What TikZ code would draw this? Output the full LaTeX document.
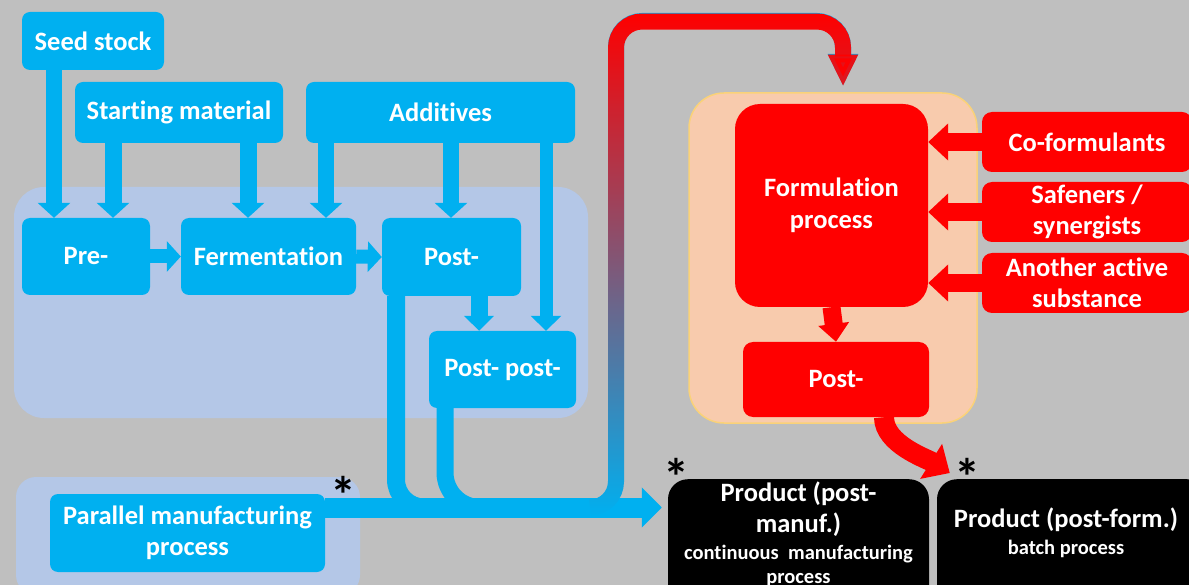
\documentclass[tikz,border=0pt]{standalone}
\usepackage{fontspec}
\setmainfont[Ligatures=NoCommon]{Carlito}
\usetikzlibrary{arrows.meta,fadings,calc}

\definecolor{bgray}{RGB}{191,191,191}
\definecolor{sky}{RGB}{0,176,240}
\definecolor{lavblue}{RGB}{180,199,231}
\definecolor{peach}{RGB}{248,203,173}
\definecolor{peachline}{RGB}{250,210,120}
\definecolor{pred}{RGB}{255,0,0}

% red takes over towards the top of the return arrow
\tikzfading[name=redtop, top color=transparent!0, bottom color=transparent!100]

\begin{document}
\begin{tikzpicture}[x=1pt,y=-1pt,
  lbl/.style={font=\bfseries\fontsize{26.5}{31.5}\selectfont, text=white, align=center, inner sep=0pt},
  small/.style={font=\bfseries\fontsize{20.5}{24.5}\selectfont, text=white, align=center, inner sep=0pt},
  bluebox/.style={lbl, fill=sky, rounded corners=8pt},
  redbox/.style={lbl, fill=pred, rounded corners=10pt},
  prodbox/.style={fill=black, rounded corners=20pt, inner sep=0pt},
  groupbox/.style={fill=lavblue, rounded corners=30pt, inner sep=0pt},
  star/.style={font=\bfseries\fontsize{52}{52}\selectfont, text=black, inner sep=0pt, anchor=base},
  bdown/.style={draw=sky, line width=#1, line cap=butt, -{Triangle[length=15pt,width=32pt]}},
  bright/.style={draw=sky, line width=14pt, line cap=butt, -{Triangle[length=14pt,width=30pt]}},
  bline/.style={draw=sky, line width=#1, line cap=butt},
  rleft/.style={draw=pred, line width=18pt, line cap=butt, -{Triangle[length=20pt,width=36pt]}},
]
\path[use as bounding box, fill=bgray] (0,0) rectangle (1189,585);
\clip (0,0) rectangle (1189,585);

% grouping panels
\node[groupbox, minimum width=574pt, minimum height=231pt] (g1) at (301,302.5) {};
\node[groupbox, rounded corners=20pt, minimum width=344pt, minimum height=118pt] (g2) at (188,536) {};
\node[fill=peach, draw=peachline, line width=1.5pt, rounded corners=35pt,
      minimum width=288pt, minimum height=330pt, inner sep=0pt] (fgroup) at (833,258) {};

% manufacturing steps
\node[bluebox, minimum width=142pt, minimum height=58pt] (seed) at (93,41) {Seed stock};
\node[bluebox, minimum width=208pt, minimum height=61pt] (start) at (179,112.5) {Starting material};
\node[bluebox, minimum width=269pt, minimum height=61pt] (add) at (440.5,112.5) {Additives};
\node[bluebox, minimum width=128pt, minimum height=77pt] (pre) at (86,256.5) {Pre-};
\node[bluebox, minimum width=175pt, minimum height=77pt] (ferm) at (268.5,256.5) {Fermentation};
\node[bluebox, minimum width=139pt, minimum height=78pt] (post) at (451.5,257) {Post-};
\node[bluebox, minimum width=147pt, minimum height=77pt] (pp) at (502.5,369.5) {Post- post-};
\node[bluebox, minimum width=275pt, minimum height=78pt] (par) at (187.5,533) {Parallel manufacturing\\process};

% formulation steps
\node[redbox, rounded corners=25pt, minimum width=193pt, minimum height=203pt] (form) at (831.5,205.5) {Formulation\\process};
\node[redbox, minimum width=186pt, minimum height=75pt] (fpost) at (836,379.5) {Post-};
\node[redbox, minimum width=210pt, minimum height=60pt] (cof) at (1087,142) {Co-formulants};
\node[redbox, minimum width=210pt, minimum height=60pt] (saf) at (1087,212) {Safeners /\\synergists};
\node[redbox, minimum width=210pt, minimum height=60pt] (ano) at (1087,283) {Another active\\substance};

% products
\node[prodbox, minimum width=261pt, minimum height=130pt, anchor=north] (prodM) at (798.5,479) {};
\node[prodbox, minimum width=270pt, minimum height=130pt, anchor=north] (prodF) at (1072,479) {};
\node[lbl] (prodMt) at (798.5,509) {Product (post-\\manuf.)};
\node[small] (prodMs) at (798.5,566) {continuous~ manufacturing\\process};
\node[lbl] (prodFt) at (1066,520) {Product (post-form.)};
\node[small] (prodFs) at (1066,549) {batch process};

% asterisks
\node[star] (st1) at (343,513) {*};
\node[star] (st2) at (676,495) {*};
\node[star] (st3) at (967,495) {*};

% connector columns and rows
\coordinate (c54) at (54,0);
\coordinate (c113) at (113,0);
\coordinate (c248) at (248,0);
\coordinate (c326) at (326,0);
\coordinate (c451) at (451,0);
\coordinate (c546) at (546,0);
\coordinate (c479) at (479,0);
\coordinate (c396) at (396,0);
\coordinate (c445) at (445,0);
\coordinate (c616) at (616,0);
\coordinate (c843) at (843,0);
\coordinate (c884) at (884,0);
\coordinate (hl) at (0,507.5);
\coordinate (top) at (0,21);
\coordinate (fin) at (843,86);

% feeds into the manufacturing line
\draw[bdown=16pt] (seed.south -| c54) -- (pre.north -| c54);
\draw[bdown=17pt] (start.south -| c113) -- (pre.north -| c113);
\draw[bdown=17pt] (start.south -| c248) -- (ferm.north -| c248);
\draw[bdown=16pt] (add.south -| c326) -- (ferm.north -| c326);
\draw[bdown=16pt] (add.south -| c451) -- (post.north -| c451);
\draw[bline=13pt, -{Triangle[length=15pt,width=30pt]}] (add.south -| c546) -- (pp.north -| c546);
\draw[bline=17pt, -{Triangle[length=15pt,width=29pt]}] (post.south -| c479) -- (pp.north -| c479);
\draw[bright] (pre.east) -- (ferm.west);
\draw[bright] (ferm.east) -- (post.west);

% outputs merging into the product line
\draw[bline=18pt, rounded corners=28pt] (post.south -| c396) -- (c396 |- hl) -- (560,507.5);
\draw[bline=17pt, rounded corners=35pt] (pp.south -| c445) -- (c445 |- hl) -- (580,507.5);
\draw[bline=20pt, -{Triangle[length=20pt,width=39pt]}, shorten >=6pt] (par.east |- hl) -- (prodM.west |- hl);

% return line up to formulation, blue turning red
\draw[bline=16pt, rounded corners=26pt, -{Triangle[length=32pt,width=28pt]}]
  (590,507.5) -- (c616 |- hl) -- (c616 |- top) -- (c843 |- top) -- (fin);
\draw[draw=pred, line width=16pt, line cap=butt, rounded corners=26pt, path fading=redtop,
  -{Triangle[length=32pt,width=28pt]}]
  (590,507.5) -- (c616 |- hl) -- (c616 |- top) -- (c843 |- top) -- (fin);

% formulation inputs
\draw[rleft] (cof.west) -- (form.east |- cof.west);
\draw[rleft] (saf.west) -- (form.east |- saf.west);
\draw[rleft] (ano.west) -- (form.east |- ano.west);
\draw[draw=pred, line width=18pt, line cap=butt, -{Triangle[length=18pt,width=30pt]}] (form.south) -- (fpost.north);
\draw[draw=pred, line width=20pt, line cap=butt, -{Triangle[length=22pt,width=40pt]}]
  (fpost.south -| c884) to[out=-90, in=148, looseness=0.8] ([xshift=13pt,yshift=6pt]prodF.north west);
\end{tikzpicture}
\end{document}
